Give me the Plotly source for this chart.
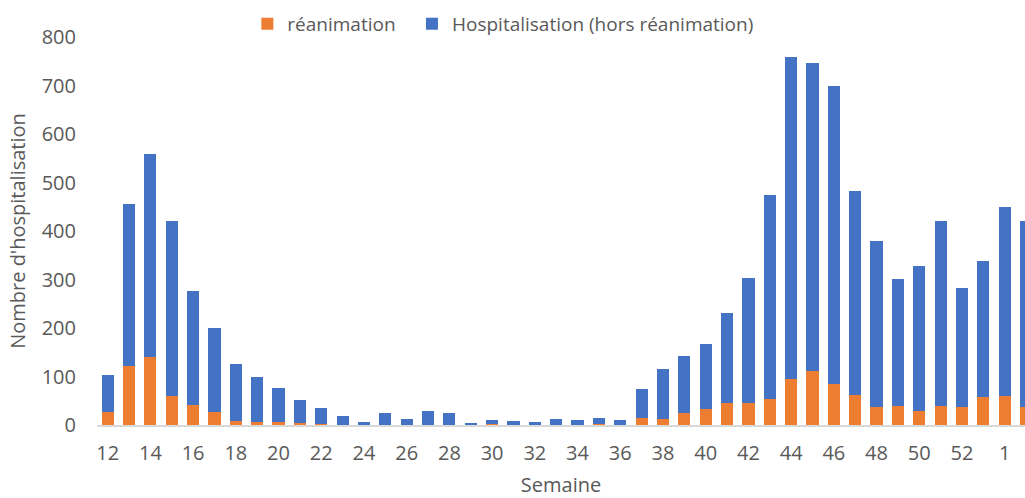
import plotly.graph_objects as go

semaines = [str(w) for w in range(12, 54)] + ["1", "2"]

reanimation = [26, 122, 140, 59, 42, 27, 9, 7, 6, 5, 3, 1, 0, 0, 0, 0, 0, 2, 2, 0,
               0, 0, 0, 2, 0, 15, 13, 25, 33, 46, 46, 54, 94, 112, 84, 62, 38, 40,
               28, 40, 38, 57, 60, 38]

hospitalisation = [78, 333, 418, 362, 234, 174, 117, 91, 71, 47, 33, 17, 6, 24, 12,
                   28, 24, 2, 9, 9, 7, 13, 11, 13, 11, 59, 102, 118, 135, 184, 258,
                   421, 665, 634, 616, 420, 342, 261, 299, 380, 244, 281, 390, 383]

tick_labels = semaines[::2]
y_ticks = list(range(0, 801, 100))

FONT = "Open Sans"
GREY = "#595959"

fig = go.Figure()
fig.add_trace(go.Bar(x=semaines, y=reanimation, name="réanimation", legend="legend",
                     showlegend=True,
                     marker=dict(color="#ED7D31", line=dict(width=0))))
fig.add_trace(go.Bar(x=semaines, y=hospitalisation, name="Hospitalisation (hors réanimation)",
                     legend="legend2", showlegend=True,
                     marker=dict(color="#4472C4", line=dict(width=0))))

leg_common = dict(orientation="h", xanchor="left", y=1.034, yanchor="middle",
                  font=dict(size=19, color=GREY), itemwidth=30,
                  bgcolor="rgba(0,0,0,0)")

fig.update_layout(
    width=1025, height=498,
    showlegend=True,
    barmode="stack", bargap=0.43,
    plot_bgcolor="white", paper_bgcolor="white",
    margin=dict(l=97, r=0, t=37, b=73),
    font=dict(family=FONT, size=20, color=GREY),
    legend=dict(x=0.162, **leg_common),
    legend2=dict(x=0.3394, **leg_common),
    xaxis=dict(type="category", range=[-0.5, 42.95], tickmode="array",
               tickvals=tick_labels, ticktext=tick_labels,
               showline=True, linecolor="#D9D9D9", linewidth=1.5,
               showgrid=False, ticks="", ticklabelstandoff=9,
               tickfont=dict(size=20, color=GREY),
               title=dict(text="Semaine", font=dict(size=20, color=GREY), standoff=16)),
    yaxis=dict(range=[0, 800], tickmode="array", tickvals=y_ticks,
               showgrid=False, zeroline=False, showline=False, ticks="",
               ticklabelstandoff=20, tickfont=dict(size=20, color=GREY),
               title=dict(text="Nombre d'hospitalisation", font=dict(size=20, color=GREY),
                          standoff=10)),
)

fig.write_html("out.html", config={"displayModeBar": False},
               post_script="document.body.style.margin='0';")
